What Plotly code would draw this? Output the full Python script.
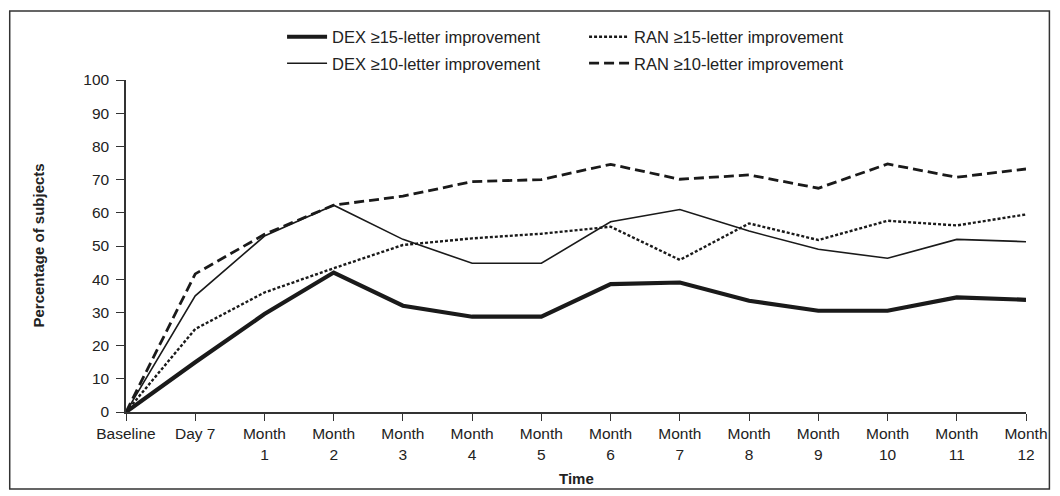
import plotly.graph_objects as go

# Visit labels along the x axis
time_labels = ["Baseline", "Day 7", "Month<br>1", "Month<br>2", "Month<br>3", "Month<br>4",
               "Month<br>5", "Month<br>6", "Month<br>7", "Month<br>8", "Month<br>9",
               "Month<br>10", "Month<br>11", "Month<br>12"]

# Percentage of subjects reaching each BCVA improvement threshold
dex_15 = [0, 15.0, 29.5, 42.0, 32.0, 28.7, 28.7, 38.5, 39.0, 33.5, 30.5, 30.5, 34.5, 33.8]
ran_15 = [0, 25.0, 36.0, 43.3, 50.3, 52.3, 53.7, 55.8, 45.8, 56.8, 51.8, 57.6, 56.2, 59.5]
dex_10 = [0, 35.0, 53.0, 62.3, 52.0, 44.8, 44.8, 57.3, 61.0, 54.5, 49.0, 46.3, 52.0, 51.3]
ran_10 = [0, 41.6, 53.5, 62.3, 65.0, 69.4, 70.0, 74.6, 70.1, 71.4, 67.4, 74.7, 70.7, 73.2]

y_ticks = list(range(0, 101, 10))

x_pos = list(range(len(time_labels)))
ink = "#1a1a1a"
text_col = "#222222"
font_family = "Liberation Sans, Arial, sans-serif"

fig = go.Figure()

fig.add_trace(go.Scatter(x=x_pos, y=dex_15, mode="lines", name="DEX ≥15-letter improvement",
                         line=dict(color=ink, width=4.2), legend="legend"))
fig.add_trace(go.Scatter(x=x_pos, y=ran_15, mode="lines", name="RAN ≥15-letter improvement",
                         line=dict(color=ink, width=2.4, dash="3px,2px"), legend="legend"))
fig.add_trace(go.Scatter(x=x_pos, y=dex_10, mode="lines", name="DEX ≥10-letter improvement",
                         line=dict(color=ink, width=1.6), legend="legend2"))
fig.add_trace(go.Scatter(x=x_pos, y=ran_10, mode="lines", name="RAN ≥10-letter improvement",
                         line=dict(color=ink, width=2.8, dash="10px,5px"), legend="legend2"))

legend_common = dict(
    orientation="h", xanchor="left", yanchor="middle",
    itemwidth=40, entrywidthmode="pixels", entrywidth=247,
    font=dict(family=font_family, size=16.5, color=text_col),
    bgcolor="rgba(0,0,0,0)", itemclick=False, itemdoubleclick=False,
)

fig.update_layout(
    width=1060, height=496,
    margin=dict(l=126, r=28.5, t=80, b=84),
    paper_bgcolor="white", plot_bgcolor="white",
    font=dict(family=font_family, size=15.5, color=text_col),
    showlegend=True,
    legend=dict(x=0.1734, y=1.1295, **legend_common),
    legend2=dict(x=0.1734, y=1.0497, **legend_common),
    xaxis=dict(
        range=[0, 13], tickmode="array", tickvals=x_pos, ticktext=time_labels,
        showgrid=False, zeroline=False, showline=True, linecolor="#333333", linewidth=1.5,
        ticks="outside", ticklen=7, tickwidth=1.3, tickcolor="#333333",
        tickfont=dict(size=15.5, color=text_col),
    ),
    yaxis=dict(
        range=[0, 100], tickmode="array", tickvals=y_ticks,
        showgrid=False, zeroline=False, showline=True, linecolor="#333333", linewidth=1.5,
        ticks="outside", ticklen=8, tickwidth=1.3, tickcolor="#333333",
        tickfont=dict(size=15.5, color=text_col), ticklabelstandoff=4,
    ),
    annotations=[
        dict(text="<b>Percentage of subjects</b>", xref="paper", yref="paper",
             x=-0.0983, y=0.5, textangle=-90, showarrow=False,
             xanchor="center", yanchor="middle", font=dict(size=15, color=text_col)),
        dict(text="<b>Time</b>", xref="paper", yref="paper",
             x=0.5, y=-0.2018, showarrow=False, xanchor="center", yanchor="middle",
             font=dict(size=15, color=text_col)),
    ],
    shapes=[
        dict(type="rect", xref="paper", yref="paper",
             x0=-0.1292, x1=1.026, y0=-0.2319, y1=1.2078,
             line=dict(color="#333333", width=1.5), fillcolor="rgba(0,0,0,0)", layer="below"),
    ],
)

fig.write_html("out.html")
